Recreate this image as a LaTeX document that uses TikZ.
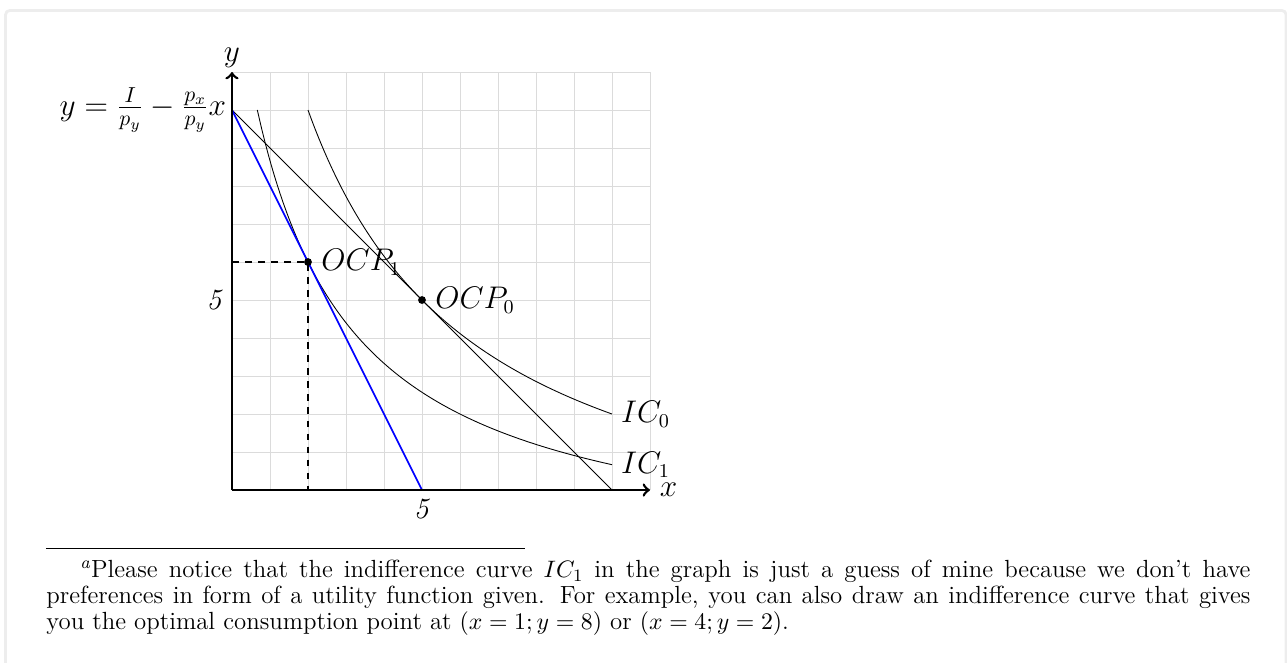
\documentclass[tikz,border=0pt,12pt]{standalone}
\usepackage{amsmath}
\usetikzlibrary{positioning}
\begin{document}
\begin{tikzpicture}[
  x=17.5pt, y=17.5pt,
  line cap=butt, line join=miter,
  axis/.style={very thick, ->},
  budget/.style={thick, blue},
  guide/.style={thick, dashed},
  indiff/.style={thin, smooth, samples=80, variable=\t},
  ocp/.style={circle, fill=black, inner sep=0pt, minimum size=3.6pt},
  every node/.style={font=\fontsize{13.5pt}{16pt}\selectfont}
]
  \useasboundingbox (-6.105,-4.526) rectangle (27.763,12.895);
  % ---- frame ----
  \draw[line width=1.3pt, black!7, rounded corners=2pt]
    (-5.96,-4.7) -- (-5.96,12.62) -- (27.74,12.62) -- (27.74,-4.7);
  % ---- grid ----
  \draw[black!14, line width=0.4pt, step=1] (0,0) grid (11,11);
  % ---- points ----
  \coordinate (O)  at ( 0, 0);
  \coordinate (B)  at ( 0,10);
  \coordinate (Xb) at ( 5, 0);
  \coordinate (Xk) at (10, 0);
  \coordinate (Y1) at ( 0, 6);
  \coordinate (X1) at ( 2, 0);
  \coordinate (Xe) at (11, 0);
  \coordinate (Ye) at ( 0,11);
  % ---- indifference curves ----
  \draw[indiff, domain=2:10] plot (\t, {56.25/(\t+2.5)-2.5})
    node[right] (ic0) {$IC_0$};
  \draw[indiff, domain=0.6667:10] plot (\t, {32/(\t+2)-2})
    node[right] (ic1) {$IC_1$};
  % ---- budget lines ----
  \draw (B) -- (Xk);
  \draw[budget] (B) -- (Xb);
  % ---- optimum points ----
  \node[ocp] (P1) at (2,6) {};
  \node[ocp] (P0) at (5,5) {};
  \draw[guide] (Y1) -- (P1.center) -- (X1);
  \node[right=0pt of P1] (l1) {$OCP_1$};
  \node[right=0pt of P0] (l0) {$OCP_0$};
  % ---- axes ----
  \draw[axis] (O) -- (Xe) node[right] (xl) {$x$};
  \draw[axis] (O) -- (Ye) node[above, inner sep=1.5pt] (yl) {$y$};
  \node[left, inner sep=2.5pt, font=\fontsize{14pt}{16pt}\selectfont] (eq) at (B)
    {$y=\frac{I}{p_y}-\frac{p_x}{p_y}x$};
  \node[below] (t5x) at (Xb) {\textit{5}};
  \node[left] (t5y) at (0,5) {\textit{5}};
  % ---- footnote ----
  \coordinate (r0) at (-4.895,-1.526);
  \coordinate (r1) at ( 7.710,-1.526);
  \draw[line width=0.4pt] (r0) -- (r1);
  \node[anchor=north west, inner sep=0pt, text width=554.5pt, align=justify,
        font=\fontsize{11.43pt}{12pt}\selectfont] (note) at (-4.895,-1.83)
    {\hbox to 1.8em{\hss\textsuperscript{\itshape a}}Please notice that the indifference curve $IC_1$ in the graph is just a guess of mine because we don't have preferences in form of a utility function given. For example, you can also draw an indifference curve that gives you the optimal consumption point at $(x=1;y=8)$ or $(x=4;y=2)$.};
\end{tikzpicture}
\end{document}
